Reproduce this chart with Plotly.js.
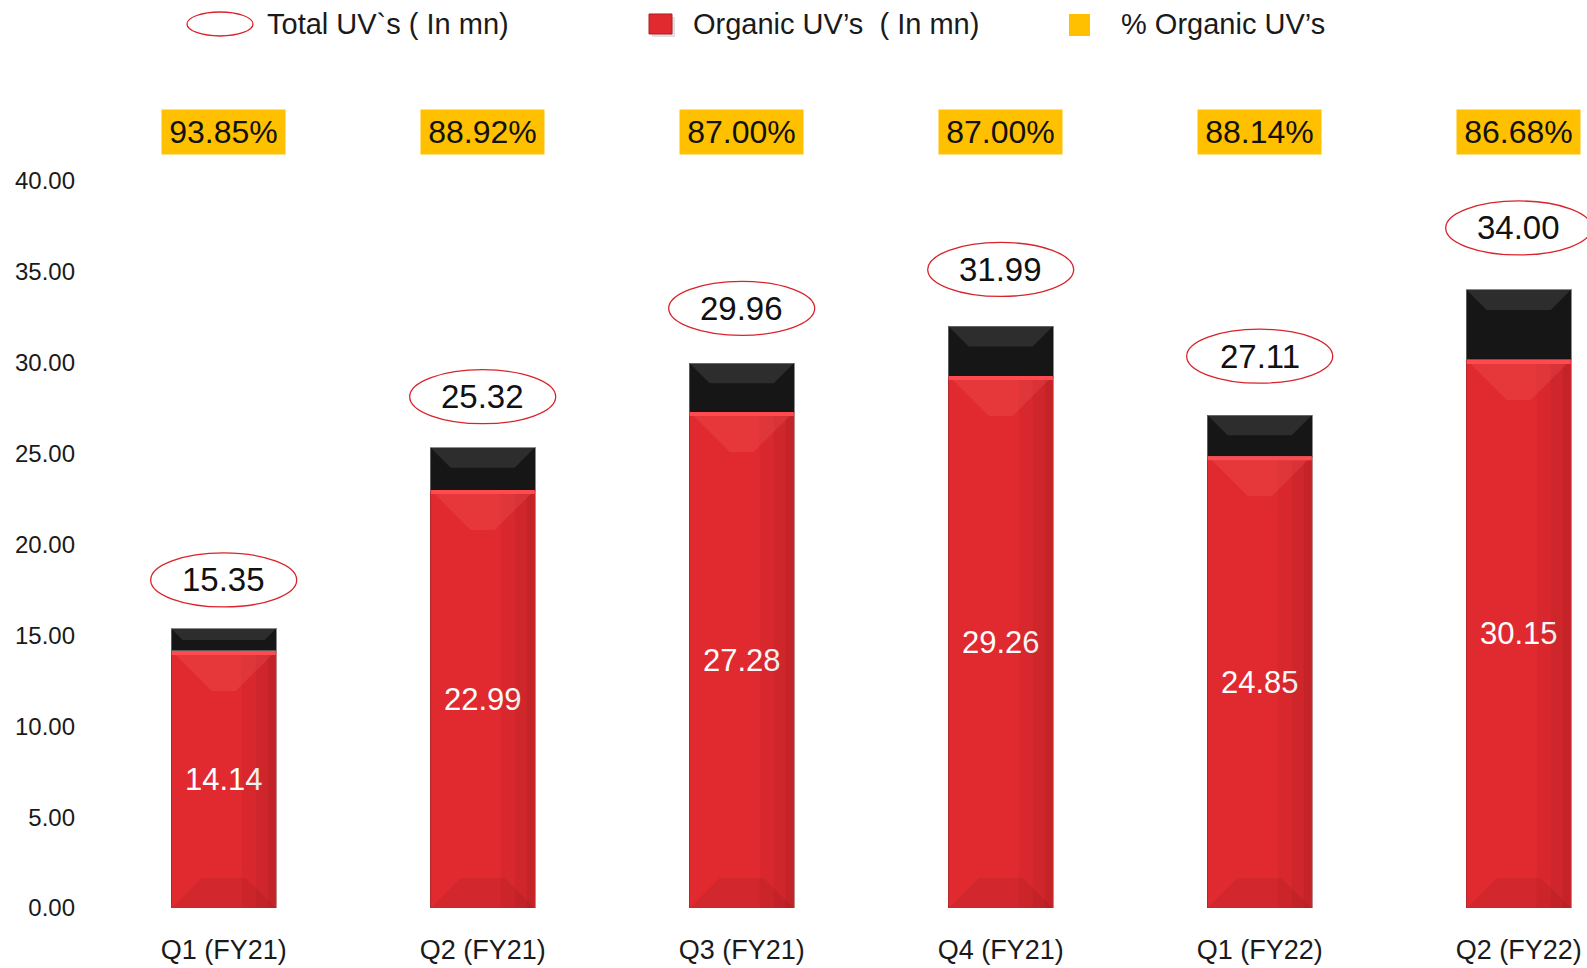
<!DOCTYPE html>
<html>
<head>
<meta charset="utf-8">
<script src="https://cdn.plot.ly/plotly-3.0.1.min.js"></script>
<style>html,body{margin:0;padding:0;background:#fff;}#chart{width:1587px;height:968px;}</style>
</head>
<body>
<div id="chart"></div>
<script>
// ---- data ----
const categories = ["Q1 (FY21)", "Q2 (FY21)", "Q3 (FY21)", "Q4 (FY21)", "Q1 (FY22)", "Q2 (FY22)"];
const totalUV = [15.35, 25.32, 29.96, 31.99, 27.11, 34.00];
const organicUV = [14.14, 22.99, 27.28, 29.26, 24.85, 30.15];
const organicPct = ["93.85%", "88.92%", "87.00%", "87.00%", "88.14%", "86.68%"];
const yTicks = [0, 5, 10, 15, 20, 25, 30, 35, 40];
const legendLabels = ["Total UV`s ( In mn)", "Organic UV\u2019s \u00A0( In mn)", "% Organic UV\u2019s"];

// ---- layout constants ----
const W = 1587, H = 968;
const M = {l: 80, r: 0, t: 60, b: 60.4};
const plotW = W - M.l - M.r, plotH = H - M.t - M.b;
const PXU = 18.17;               // pixels per y unit
const FONT = "Liberation Sans, Arial, sans-serif";
const RED = "#E02A2F", BLACK = "#161616", YELLOW = "#FFC000", TXT = "#1a1a1a";
const labelLift = [49, 51, 55, 57, 59, 62];   // pixel lift of the total-value ellipses
const HW = 52;                    // bar half width in px (for bevel decorations)
const px2x = px => (px - M.l) / plotW;
const px2y = py => (H - M.b - py) / plotH;

const xIdx = categories.map((c, i) => i);
const otherUV = totalUV.map((t, i) => +(t - organicUV[i]).toFixed(2));

const traces = [
  {
    type: "bar", x: xIdx, y: organicUV, width: 0.405,
    marker: {color: RED, line: {color: "rgba(140,40,40,0.55)", width: 1}},
    text: organicUV.map(v => v.toFixed(2)), textposition: "inside", insidetextanchor: "middle",
    textfont: {family: FONT, size: 31, color: "#ffffff"}, constraintext: "none",
    hoverinfo: "skip", showlegend: false
  },
  {
    type: "bar", x: xIdx, y: otherUV, width: 0.405,
    marker: {color: BLACK, line: {color: "rgba(110,110,110,0.8)", width: 1}},
    textposition: "none", hoverinfo: "skip", showlegend: false
  }
];

const annotations = [];
const shapes = [];

// bevel decorations
organicUV.forEach((o, i) => {
  const base = {xref: "x", yref: "y", xsizemode: "pixel", xanchor: i, layer: "above", line: {width: 0}};
  // soft darker right edge
  shapes.push(Object.assign({}, base, {type: "rect", x0: HW - 34, x1: HW, y0: 0, y1: o, fillcolor: "rgba(0,0,0,0.035)"}));
  shapes.push(Object.assign({}, base, {type: "rect", x0: HW - 20, x1: HW, y0: 0, y1: o, fillcolor: "rgba(0,0,0,0.04)"}));
  shapes.push(Object.assign({}, base, {type: "rect", x0: HW - 8, x1: HW, y0: 0, y1: o, fillcolor: "rgba(0,0,0,0.05)"}));
  // top lighter bevel on red
  shapes.push(Object.assign({}, base, {type: "path", ysizemode: "pixel", yanchor: o,
    path: `M${-HW},0 L${HW},0 L${HW - 40},-40 L${-HW + 40},-40 Z`, fillcolor: "rgba(255,110,110,0.2)"}));
  shapes.push(Object.assign({}, base, {type: "rect", ysizemode: "pixel", yanchor: o, x0: -HW, x1: HW, y0: -4, y1: 0, fillcolor: "#FF4A50"}));
  // bottom darker bevel on red
  shapes.push(Object.assign({}, base, {type: "path", ysizemode: "pixel", yanchor: 0,
    path: `M${-HW},0 L${HW},0 L${HW - 30},30 L${-HW + 30},30 Z`, fillcolor: "rgba(0,0,0,0.06)"}));
  // top lighter bevel on black
  const d = Math.min(20, (totalUV[i] - o) * PXU / 2);
  shapes.push(Object.assign({}, base, {type: "path", ysizemode: "pixel", yanchor: totalUV[i],
    path: `M${-HW},0 L${HW},0 L${HW - d},${-d} L${-HW + d},${-d} Z`, fillcolor: "rgba(255,255,255,0.10)"}));
});

// percentage boxes
organicPct.forEach((p, i) => {
  annotations.push({
    x: i, xref: "x", y: px2y(132), yref: "paper", text: p, showarrow: false,
    font: {family: FONT, size: 32, color: "#111"}, bgcolor: YELLOW,
    width: 119, height: 40, borderpad: 2, xanchor: "center", yanchor: "middle"
  });
});

// total labels with ellipses
totalUV.forEach((t, i) => {
  const L = labelLift[i];
  shapes.push({
    type: "circle", xref: "x", yref: "y", xsizemode: "pixel", ysizemode: "pixel",
    xanchor: i, yanchor: t, x0: -73, x1: 73, y0: L - 27, y1: L + 27,
    line: {color: "#D9232B", width: 1.3}, fillcolor: "rgba(255,255,255,0)"
  });
  annotations.push({
    x: i, xref: "x", y: t, yref: "y", yshift: L, text: t.toFixed(2), showarrow: false,
    font: {family: FONT, size: 33, color: "#111"}, xanchor: "center", yanchor: "middle"
  });
});

// legend (manual)
shapes.push({type: "circle", xref: "paper", yref: "paper",
  x0: px2x(187), x1: px2x(253), y0: px2y(36), y1: px2y(12),
  line: {color: "#D9232B", width: 1.3}, fillcolor: "rgba(255,255,255,0)"});
shapes.push({type: "rect", xref: "paper", yref: "paper",
  x0: px2x(652), x1: px2x(675), y0: px2y(37), y1: px2y(17),
  line: {width: 0}, fillcolor: "rgba(0,0,0,0.12)"});
shapes.push({type: "rect", xref: "paper", yref: "paper",
  x0: px2x(649), x1: px2x(672), y0: px2y(34), y1: px2y(14),
  line: {color: "#B01E24", width: 1}, fillcolor: RED});
shapes.push({type: "rect", xref: "paper", yref: "paper",
  x0: px2x(1069), x1: px2x(1090), y0: px2y(36), y1: px2y(14),
  line: {width: 0}, fillcolor: YELLOW});
[[265, 0], [691, 1], [1119, 2]].forEach(([px, k]) => {
  annotations.push({x: px2x(px), xref: "paper", y: px2y(24), yref: "paper",
    text: legendLabels[k], showarrow: false, xanchor: "left", yanchor: "middle",
    font: {family: FONT, size: 29, color: TXT}});
});

const layout = {
  width: W, height: H, margin: M, paper_bgcolor: "#fff", plot_bgcolor: "#fff",
  barmode: "stack", bargap: 0, showlegend: false,
  font: {family: FONT, color: TXT},
  xaxis: {
    range: [-(223.7 - M.l) / 259, -(223.7 - M.l) / 259 + plotW / 259],
    tickmode: "array", tickvals: xIdx, ticktext: categories,
    tickfont: {family: FONT, size: 27, color: TXT},
    showgrid: false, zeroline: false, showline: false, ticks: "",
    ticklabelstandoff: 23, fixedrange: true
  },
  yaxis: {
    range: [0, plotH / PXU],
    tickmode: "array", tickvals: yTicks, ticktext: yTicks.map(v => v.toFixed(2)),
    tickfont: {family: FONT, size: 24, color: TXT},
    showgrid: false, zeroline: false, showline: false, ticks: "",
    ticklabelstandoff: 4, fixedrange: true
  },
  shapes: shapes, annotations: annotations
};

Plotly.newPlot("chart", traces, layout, {displayModeBar: false, staticPlot: true});
</script>
</body>
</html>
